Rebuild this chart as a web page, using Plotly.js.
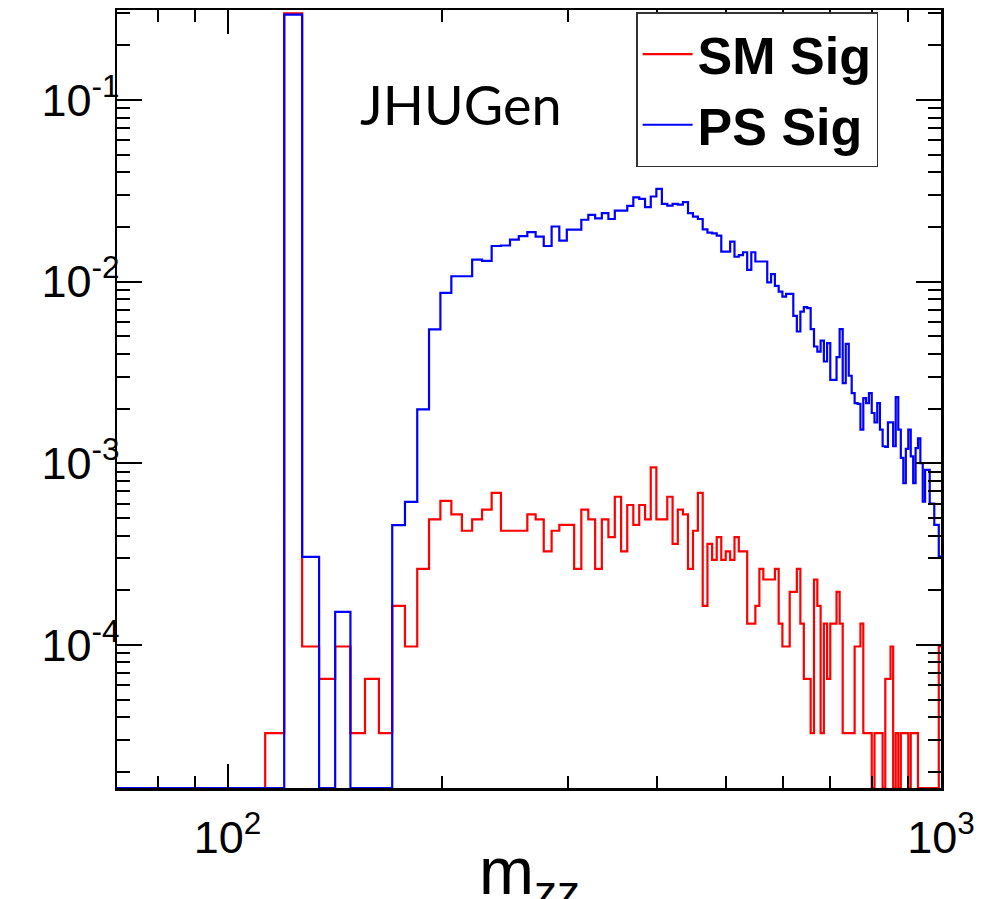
<!DOCTYPE html>
<html>
<head>
<meta charset="utf-8">
<script src="https://cdn.plot.ly/plotly-3.0.1.min.js"></script>
<style>
  html, body { margin: 0; padding: 0; background: #ffffff; }
  #chart { width: 1001px; height: 899px; }
</style>
</head>
<body>
<div id="chart"></div>
<script>
// Histogram binning (m_ZZ, GeV)
const binLow = 70;
const binHigh = 1000;
const nBins = 130;

// SM signal (red), one value per bin
const smSig = [
  0, 0, 0, 0, 0, 0, 3.27e-5, 0.30, 9.8e-5, 6.5e-5,
  9.8e-5, 3.27e-5, 6.5e-5, 3.27e-5, 1.64e-4, 9.8e-5, 2.62e-4, 4.91e-4, 6.21e-4, 5.23e-4,
  4.25e-4, 4.91e-4, 5.56e-4, 6.87e-4, 4.25e-4, 4.25e-4, 4.25e-4, 5.23e-4, 4.91e-4, 3.27e-4,
  4.25e-4, 4.58e-4, 4.58e-4, 2.62e-4, 5.56e-4, 4.91e-4, 2.62e-4, 4.91e-4, 3.92e-4, 6.54e-4,
  3.27e-4, 5.89e-4, 4.58e-4, 5.89e-4, 4.91e-4, 9.48e-4, 4.91e-4, 4.91e-4, 6.54e-4, 3.60e-4,
  5.56e-4, 5.23e-4, 2.62e-4, 4.25e-4, 6.87e-4, 1.64e-4, 3.60e-4, 2.94e-4, 3.92e-4, 2.94e-4,
  3.27e-4, 2.94e-4, 3.92e-4, 3.27e-4, 3.27e-4, 1.31e-4, 1.31e-4, 1.64e-4, 2.62e-4, 2.29e-4,
  2.29e-4, 2.29e-4, 2.62e-4, 1.31e-4, 9.8e-5, 9.8e-5, 1.96e-4, 1.96e-4, 2.62e-4, 1.31e-4,
  6.5e-5, 6.5e-5, 3.27e-5, 2.29e-4, 1.64e-4, 3.27e-5, 1.31e-4, 6.5e-5, 1.31e-4, 1.31e-4,
  1.96e-4, 1.31e-4, 3.27e-5, 3.27e-5, 3.27e-5, 3.27e-5, 9.8e-5, 9.8e-5, 1.31e-4, 3.27e-5,
  3.27e-5, 3.27e-5, 0, 3.27e-5, 3.27e-5, 3.27e-5, 0, 6.5e-5, 6.5e-5, 9.8e-5,
  0, 3.27e-5, 0, 3.27e-5, 3.27e-5, 3.27e-5, 0, 3.27e-5, 3.27e-5, 3.27e-5,
  0, 0, 0, 0, 0, 0, 0, 0, 0, 9.8e-5
];

// PS signal (blue), one value per bin
const psSig = [
  0, 0, 0, 0, 0, 0, 0, 0.295, 3.05e-4, 0,
  1.52e-4, 0, 0, 0, 4.56e-4, 6.12e-4, 1.98e-3, 5.46e-3, 8.67e-3, 1.07e-2,
  1.07e-2, 1.32e-2, 1.30e-2, 1.57e-2, 1.58e-2, 1.70e-2, 1.78e-2, 1.87e-2, 1.77e-2, 1.57e-2,
  2.01e-2, 1.68e-2, 1.93e-2, 1.93e-2, 2.19e-2, 2.33e-2, 2.23e-2, 2.38e-2, 2.21e-2, 2.46e-2,
  2.46e-2, 2.61e-2, 2.91e-2, 2.85e-2, 2.57e-2, 2.94e-2, 3.24e-2, 2.68e-2, 2.62e-2, 2.68e-2,
  2.65e-2, 2.74e-2, 2.38e-2, 2.28e-2, 2.21e-2, 1.94e-2, 1.86e-2, 1.84e-2, 1.79e-2, 1.46e-2,
  1.46e-2, 1.66e-2, 1.37e-2, 1.40e-2, 1.45e-2, 1.16e-2, 1.45e-2, 1.29e-2, 1.29e-2, 1.29e-2,
  9.9e-3, 1.10e-2, 9.46e-3, 8.8e-3, 8.27e-3, 8.55e-3, 8.55e-3, 6.47e-3, 5.31e-3, 6.84e-3,
  7.23e-3, 7.15e-3, 5.47e-3, 4.39e-3, 4.12e-3, 4.73e-3, 3.63e-3, 4.58e-3, 2.88e-3, 2.88e-3,
  3.84e-3, 5.47e-3, 2.76e-3, 4.54e-3, 3.03e-3, 2.43e-3, 2.14e-3, 2.12e-3, 1.53e-3, 2.28e-3,
  2.14e-3, 2.43e-3, 1.89e-3, 1.68e-3, 2.14e-3, 1.53e-3, 1.24e-3, 1.23e-3, 1.68e-3, 1.68e-3,
  1.24e-3, 2.31e-3, 1.53e-3, 1.07e-3, 7.77e-4, 1.20e-3, 1.53e-3, 1.09e-3, 7.77e-4, 1.21e-3,
  1.37e-3, 1.00e-3, 6.15e-4, 9.2e-4, 9.2e-4, 6.0e-4, 6.0e-4, 4.58e-4, 4.58e-4, 3.07e-4
];

const seriesNames = ['SM Sig', 'PS Sig'];
const seriesColors = ['#ff0000', '#0000ff'];

// Axis ticks
const xTickVals = [100, 1000];
const xTickText = ['10<sup>2</sup>', '10<sup>3</sup>'];
const xMinorVals = [80, 90, 200, 300, 400, 500, 600, 700, 800, 900];
const yTickVals = [1e-4, 1e-3, 1e-2, 1e-1];
const yTickText = ['10<sup>-4</sup>', '10<sup>-3</sup>', '10<sup>-2</sup>', '10<sup>-1</sup>'];
const yMinorVals = [];
[1e-5, 1e-4, 1e-3, 1e-2, 1e-1].forEach(d => { for (let m = 2; m <= 9; m++) yMinorVals.push(m * d); });

const xMin = 70, xMax = 1000;
const yMin = 1.63e-5, yMax = 0.3126;

// Build step-histogram coordinates (empty bins drawn on the frame bottom, like ROOT)
const edges = [];
for (let i = 0; i <= nBins; i++) edges.push(binLow + i * (binHigh - binLow) / nBins);
function stepY(vals) {
  const y = vals.map(v => (v > 0 ? v : yMin));
  y.push(y[y.length - 1]);
  return y;
}

const traces = [smSig, psSig].map((vals, i) => ({
  type: 'scatter',
  mode: 'lines',
  x: edges,
  y: stepY(vals),
  name: seriesNames[i],
  line: { shape: 'hv', color: seriesColors[i], width: 2.2 },
  hoverinfo: 'skip'
}));

const tickFont = { family: 'Liberation Sans, Arial, sans-serif', size: 45, color: '#000000' };

const layout = {
  width: 1001,
  height: 899,
  margin: { l: 117, r: 60, t: 10, b: 111, pad: 0 },
  paper_bgcolor: '#ffffff',
  plot_bgcolor: '#ffffff',
  showlegend: true,
  legend: {
    x: 0.63, y: 0.997, xanchor: 'left', yanchor: 'top',
    bgcolor: '#ffffff', bordercolor: '#333333', borderwidth: 1.5,
    font: { family: 'Liberation Sans, Arial, sans-serif', size: 52, color: '#000000', weight: 'bold' },
    itemwidth: 50,
    traceorder: 'normal'
  },
  xaxis: {
    type: 'log',
    range: [Math.log10(xMin), Math.log10(xMax)],
    showgrid: false, zeroline: false,
    showline: true, linecolor: '#000000', linewidth: 2.5, mirror: 'allticks',
    ticks: 'inside', ticklen: 24, tickwidth: 2, tickcolor: '#000000',
    tickmode: 'array', tickvals: xTickVals, ticktext: xTickText,
    tickfont: tickFont,
    ticklabelstandoff: 8,
    minor: { tickmode: 'array', tickvals: xMinorVals, ticks: 'inside', ticklen: 12, tickwidth: 2, tickcolor: '#000000', showgrid: false },
    automargin: false
  },
  yaxis: {
    type: 'log',
    range: [Math.log10(yMin), Math.log10(yMax)],
    showgrid: false, zeroline: false,
    showline: true, linecolor: '#000000', linewidth: 2.5, mirror: 'allticks',
    ticks: 'inside', ticklen: 25, tickwidth: 2, tickcolor: '#000000',
    tickmode: 'array', tickvals: yTickVals, ticktext: yTickText,
    tickfont: tickFont,
    ticklabelstandoff: -14,
    minor: { tickmode: 'array', tickvals: yMinorVals, ticks: 'inside', ticklen: 13, tickwidth: 2, tickcolor: '#000000', showgrid: false },
    automargin: false
  },
  annotations: [{
    text: 'JHUGen',
    xref: 'paper', yref: 'paper',
    x: 0.2925, y: 0.879, xanchor: 'left', yanchor: 'middle',
    showarrow: false,
    font: { family: 'Lato, Liberation Sans, sans-serif', size: 54, color: '#000000' }
  }, {
    text: 'm<sub>zz</sub>',
    xref: 'paper', yref: 'paper',
    x: 0.5, y: -0.0566, xanchor: 'center', yanchor: 'top',
    showarrow: false,
    font: { family: 'Liberation Sans, Arial, sans-serif', size: 66, color: '#000000' }
  }]
};

Plotly.newPlot('chart', traces, layout, { staticPlot: true, displayModeBar: false });
</script>
</body>
</html>
